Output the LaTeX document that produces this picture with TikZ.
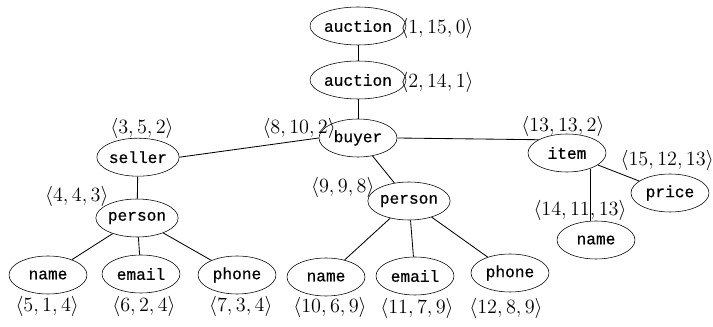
\documentclass[tikz,border=0pt]{standalone}
\usepackage{fontspec}
\setmainfont{Liberation Serif}
\newfontfamily\treefont[FakeBold=0.6]{Liberation Mono}
\usetikzlibrary{shapes.geometric}

\begin{document}
\begin{tikzpicture}
		[   enode/.style={draw=black,ellipse,minimum width=1.95cm,minimum height=0.95cm,inner sep=0pt,font=\treefont\fontsize{11.5}{13}\selectfont},
		    tlabel/.style={inner sep=0pt,font=\fontsize{14}{16}\selectfont},
		]
		\tikzset{tree edge/.style={draw,line width=0.6pt}}
		\useasboundingbox (0,0) rectangle (17.825,-8.175);
		
		\node[enode] (a-1) at (8.95,-0.65) {auction};
		\node[enode] (a-2) at (8.95,-2.0) {auction};
		\node[enode] (b) at (8.95,-3.45) {buyer};
		
		\node[enode] (s) at (3.45,-3.93) {seller};
		\node[enode] (p-1) at (3.425,-5.45) {person};
		\node[enode] (n-1) at (1.2,-6.875) {name};
		\node[enode] (e-1) at (3.525,-6.85) {email};
		\node[enode] (h-1) at (5.925,-6.875) {phone};
		
		\node[enode] (p-2) at (10.225,-5.025) {person};
		\node[enode] (n-2) at (8.15,-6.925) {name};
		\node[enode] (e-2) at (10.375,-6.9) {email};
		\node[enode] (h-2) at (12.75,-6.825) {phone};
		
		\node[enode] (i) at (14.175,-3.825) {item};
		\node[enode] (c) at (16.75,-4.825) {price};
		\node[enode] (n-3) at (14.9,-6.0) {name};
		
		
		\node[tlabel] (l-1) at (10.925,-0.7) {$\langle 1,15,0\rangle$};
		\node[tlabel] (l-2) at (10.925,-2.05) {$\langle 2,14,1\rangle$};
		\node[tlabel] (l-3) at (3.55,-3.22) {$\langle 3,5,2\rangle$};
		\node[tlabel] (l-4) at (1.92,-4.9) {$\langle 4,4,3\rangle$};
		\node[tlabel] (l-5) at (1.18,-7.65) {$\langle 5,1,4\rangle$};
		\node[tlabel] (l-6) at (3.6,-7.65) {$\langle 6,2,4\rangle$};
		\node[tlabel] (l-7) at (6.02,-7.65) {$\langle 7,3,4\rangle$};
		\node[tlabel] (l-8) at (7.48,-3.2) {$\langle 8,10,2\rangle$};
		\node[tlabel] (l-9) at (8.57,-4.68) {$\langle 9,9,8\rangle$};
		\node[tlabel] (l-10) at (8.25,-7.675) {$\langle 10,6,9\rangle$};
		\node[tlabel] (l-11) at (10.425,-7.72) {$\langle 11,7,9\rangle$};
		\node[tlabel] (l-12) at (12.65,-7.7) {$\langle 12,8,9\rangle$};
		\node[tlabel] (l-13) at (14.075,-3.15) {$\langle 13,13,2\rangle$};
		\node[tlabel] (l-14) at (14.5,-5.25) {$\langle 14,11,13\rangle$};
		\node[tlabel] (l-15) at (16.68,-4.02) {$\langle 15,12,13\rangle$};
		
		
		\path[tree edge] (a-1) -- (a-2);
		\path[tree edge] (a-2) -- (b);
		\path[tree edge] (s.east) -- (b.west);
		\path[tree edge] (b.east) -- (i.155);
		\path[tree edge] (b) -- (p-2);
		\path[tree edge] (s) -- (p-1);
		
		\foreach \x in {1,2}
		{   
			\foreach \y in {n,e,h}
			{   
				\path[tree edge] (p-\x) -- (\y-\x); 
			}		
		}
		
		\path[tree edge] (i) -- (c);
		\path[tree edge] (i.-34) -- (i.-34 |- n-3.north);
		
		\end{tikzpicture}
\end{document}
